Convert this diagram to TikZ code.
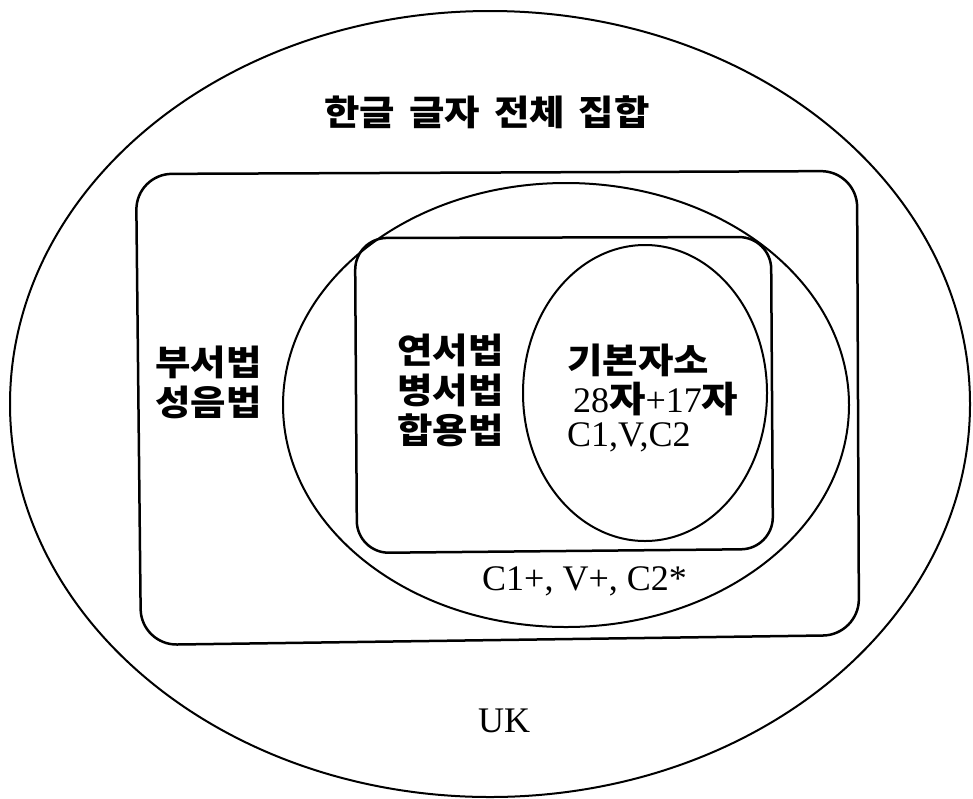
\documentclass[tikz,border=0pt]{standalone}
\usepackage{fontspec}
\setmainfont{Liberation Serif}
\newfontfamily\kr[FakeStretch=1.1]{Noto Sans CJK KR}
\tikzset{
  ring/.style={draw=black, line width=2pt},
  box/.style={draw=black, line width=2.5pt},
  krtext/.style={inner sep=0pt, font=\kr\bfseries\fontsize{35}{40}\selectfont},
  latext/.style={inner sep=0pt, font=\fontsize{36}{40}\selectfont},
}
\begin{document}
\begin{tikzpicture}[x=1pt, y=-1pt]
\useasboundingbox (0,0) rectangle (973,798);
% outer set
\draw[ring] (490,404) ellipse [x radius=480, y radius=393];
% large rounded box
\draw[box, rounded corners=36pt] (500,172.5) -- (857,171) -- (859,635) -- (141,645) -- (136,174) -- cycle;
% middle ellipse
\draw[ring] (566,405) ellipse [x radius=283, y radius=222];
% inner rounded box
\draw[box, rounded corners=32pt] (560,237.5) -- (771,237) -- (773,549) -- (357,553) -- (355,238) -- cycle;
% inner ellipse
\draw[ring] (645,393) ellipse [x radius=122, y radius=148];

\node[krtext] (title) at (487,112) {한글\hspace{0.15em} 글자\hspace{0.15em} 전체\hspace{0.15em} 집합};
\node[krtext, anchor=west] (bu) at (155,362) {부서법};
\node[krtext, anchor=west] (seong) at (155,402) {성음법};
\node[krtext, anchor=west] (yeon) at (397,350) {연서법};
\node[krtext, anchor=west] (byeong) at (397,390) {병서법};
\node[krtext, anchor=west] (hap) at (397,430) {합용법};
\node[krtext, anchor=west] (gibon) at (567,360) {기본자소};
\node[latext, anchor=west] (count) at (573,399) {28{\kr\bfseries 자}+17{\kr\bfseries 자}};
\node[latext, anchor=west] (cvc) at (567,437) {C1,V,C2};
\node[latext, anchor=west] (cvcplus) at (482,581) {C1+, V+, C2*};
\node[latext] (uk) at (504,721) {UK};
\end{tikzpicture}
\end{document}
